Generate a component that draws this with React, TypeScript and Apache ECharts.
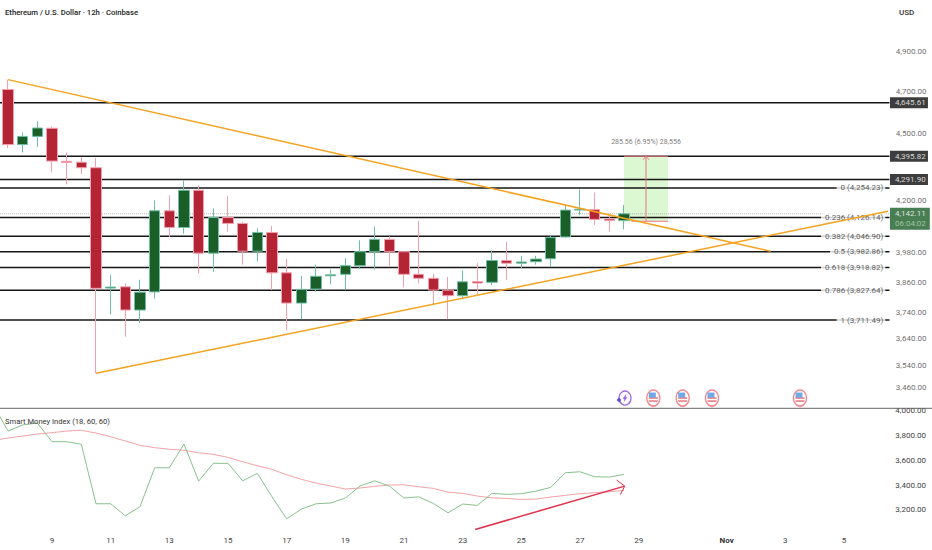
import React, { useEffect, useRef } from "react";
import * as echarts from "echarts";

// [open, close, low, high] per 12h bar; bar 0 = Oct 7 12:00
const candles: number[][] = [
  [4710, 4449, 4434, 4758], [4449, 4487, 4413, 4505], [4487, 4526, 4438, 4558], [4525, 4374, 4323, 4532],
  [4373, 4368, 4270, 4413], [4369, 4344, 4316, 4393], [4344, 3835, 3513, 4388], [3836, 3840, 3733, 3887],
  [3841, 3750, 3648, 3855], [3750, 3820, 3699, 3869], [3821, 4155, 3795, 4200], [4155, 4084, 4044, 4222],
  [4084, 4244, 4058, 4289], [4244, 3977, 3894, 4266], [3977, 4126, 3901, 4165], [4126, 4101, 4067, 4218],
  [4101, 3985, 3930, 4108], [3985, 4063, 3943, 4080], [4063, 3897, 3828, 4090], [3897, 3777, 3673, 3953],
  [3777, 3831, 3715, 3885], [3832, 3883, 3821, 3930], [3885, 3889, 3851, 3910], [3891, 3926, 3828, 3957],
  [3926, 3983, 3912, 4030], [3983, 4034, 3910, 4087], [4034, 3983, 3920, 4047], [3983, 3891, 3839, 3985],
  [3891, 3875, 3855, 4112], [3875, 3828, 3773, 3893], [3828, 3806, 3715, 3881], [3806, 3861, 3792, 3907],
  [3862, 3856, 3808, 3936], [3859, 3947, 3848, 3987], [3947, 3936, 3869, 4024], [3936, 3941, 3916, 3966],
  [3942, 3953, 3930, 3966], [3954, 4042, 3920, 4052], [4044, 4158, 4042, 4180], [4158, 4162, 4136, 4247],
  [4160, 4118, 4094, 4234], [4120, 4113, 4067, 4136], [4113, 4142.11, 4075, 4180],
];

// Smart Money Index pane, starting one bar before the first candle
const smiGreen = [
  4046, 3836, 3885, 3901, 3750, 3750, 3729, 3250, 3250, 3153, 3226, 3540, 3540, 3731, 3433, 3576, 3576, 3435, 3495,
  3306, 3129, 3207, 3250, 3256, 3296, 3393, 3435, 3393, 3296, 3306, 3253, 3177, 3248, 3237, 3334, 3326, 3331, 3352,
  3382, 3500, 3508, 3468, 3465, 3487,
];
const smiRed = [
  3760, 3780, 3796, 3812, 3823, 3836, 3842, 3820, 3790, 3756, 3721, 3702, 3689, 3681, 3661, 3648, 3624, 3589, 3556,
  3527, 3484, 3447, 3417, 3393, 3369, 3377, 3390, 3401, 3403, 3387, 3374, 3344, 3334, 3312, 3298, 3293, 3285, 3288,
  3304, 3318, 3331, 3339, 3347, 3358,
];

const plainLevels = [4645.61, 4395.82, 4291.9];
const fibLevels = [4254.23, 4126.14, 4046.9, 3982.86, 3918.82, 3827.64, 3711.49];
const fibLabels = ["0", "0.236", "0.382", "0.5", "0.618", "0.786", "1"];

const priceTicks = [4900, 4700, 4500, 4200, 3980, 3860, 3740, 3640, 3540, 3460];

const timeTicks = [3, 7, 11, 15, 19, 23, 27, 31, 35, 39, 43, 49, 53, 57];
const timeTickLabels = ["9", "11", "13", "15", "17", "19", "21", "23", "25", "27", "29", "Nov", "3", "5"];

const fallingTrend = [[0, 4758], [52, 3985]];
const risingTrend = [[6, 3513], [60, 4153]];

const lastPrice = 4142.11;
const countdown = "06:04:02";
const positionTop = 4395.82;
const positionBottom = 4110.26;
const positionText = "285.56 (6.95%) 28,556";
const usEvents = [44, 46, 48, 54];
const energyEvents = [42];
const eventLevel = 3424;

const smiArrow = [[31.85, 3043], [42.05, 3392]];
const smiArrowHead = [[41.5, 3441], [42.05, 3392], [41.75, 3324]];

const FONT = "Roboto, 'Liberation Sans', sans-serif";
const fmt = (v: number) => v.toLocaleString("en-US", { minimumFractionDigits: 2, maximumFractionDigits: 2 });
const X_MIN = -1.5;
const X_MAX = 60.5;
const LEVEL_END = 60.1;

const hline = (v: number) => [[X_MIN, v], [LEVEL_END, v]];

function buildOption() {
  const lineBase = { type: "line", symbol: "none", silent: true, animation: false };
  const blackLevel = (v: number, name: string) => ({
    ...lineBase, name, z: 1, data: hline(v),
    lineStyle: { color: "#161616", width: 1.5 },
  });
  const dot = { symbolSize: 1, itemStyle: { color: "transparent" }, clip: false, silent: true };

  const series: any[] = [];
  [...plainLevels, ...fibLevels].forEach((v) => series.push(blackLevel(v, "level " + v)));

  series.push({
    ...lineBase, name: "last price", z: 1, data: hline(lastPrice),
    lineStyle: { color: "#b9b9b9", width: 1, type: [1, 1] },
  });

  series.push({
    ...lineBase, name: "position", z: 1, data: [[42, positionTop], [45, positionTop]],
    lineStyle: { color: "#e8747f", width: 1 },
    markArea: {
      silent: true,
      itemStyle: { color: "#dcf8d2", opacity: 1 },
      data: [[{ coord: [42, positionTop] }, { coord: [45, positionBottom] }]],
    },
  });

  series.push({
    type: "candlestick", name: "ETHUSD", z: 2, barWidth: 11, silent: true,
    data: candles.map((c, i) => [i, c[0], c[1], c[2], c[3]]),
    encode: { x: 0, y: [1, 2, 3, 4] },
    itemStyle: { color: "#1b5e28", color0: "#b32535", borderColor: "#6fbfa6", borderColor0: "#f4a0ae", borderWidth: 1 },
  });

  series.push({
    ...lineBase, name: "position bottom", z: 3, data: [[42.5, positionBottom], [45, positionBottom]],
    lineStyle: { color: "#e8747f", width: 1 },
  });
  series.push({
    ...lineBase, name: "position arrow", z: 3, data: [[43.5, positionBottom], [43.5, positionTop]],
    lineStyle: { color: "#e8747f", width: 1 },
  });
  series.push({
    ...lineBase, name: "position arrow head", z: 3,
    data: [[43.3, 4380], [43.5, positionTop], [43.7, 4380]],
    lineStyle: { color: "#e8747f", width: 1 },
  });

  [fallingTrend, risingTrend].forEach((d, i) =>
    series.push({ ...lineBase, name: "trend " + i, z: 5, data: d, lineStyle: { color: "#f5a31f", width: 1.5 } }),
  );

  // Fibonacci captions
  series.push({
    type: "scatter", ...dot, name: "fib labels", z: 4,
    data: fibLevels.map((v, i) => ({
      value: [59.85, v],
      label: {
        show: true, position: "left", distance: 0,
        formatter: `${fibLabels[i]} (${fmt(v)})`,
        fontFamily: FONT, fontSize: 8, color: "#333",
        backgroundColor: "#fff", padding: [1, 2, 1, 4],
      },
    })),
  });

  // Price scale as an axis of labels
  series.push({
    type: "scatter", ...dot, name: "price ticks", z: 4,
    data: priceTicks.map((v) => ({
      value: [X_MAX, v],
      label: { show: true, position: "right", distance: 0, formatter: fmt(v), fontFamily: FONT, fontSize: 8, color: "#444" },
    })),
  });

  // Price tags
  series.push({
    type: "scatter", ...dot, name: "price tags", z: 6,
    data: plainLevels.map((v) => ({
      value: [LEVEL_END, v],
      label: {
        show: true, position: "right", distance: 0, formatter: fmt(v),
        fontFamily: FONT, fontSize: 8, color: "#fff",
        backgroundColor: "#0c0c0c", padding: [2, 4, 1, 5], width: 29,
      },
    })),
  });
  series.push({
    type: "scatter", ...dot, name: "last tag", z: 6,
    data: [{
      value: [LEVEL_END, lastPrice],
      label: {
        show: true, position: "right", distance: 0, offset: [0, 5],
        formatter: `{a|${fmt(lastPrice)}}\n{b|${countdown}}`,
        backgroundColor: "#1b5e28", padding: [1, 4, 1, 5],
        rich: {
          a: { fontFamily: FONT, fontSize: 8, color: "#fff", lineHeight: 10 },
          b: { fontFamily: FONT, fontSize: 8, color: "#b7d6bb", lineHeight: 10 },
        },
      },
    }],
  });

  series.push({
    type: "scatter", ...dot, name: "position text", z: 4,
    data: [{
      value: [43.5, 4461],
      label: { show: true, position: "inside", formatter: positionText, fontFamily: FONT, fontSize: 7, color: "#555" },
    }],
  });

  // Event markers
  const evt = { type: "scatter", silent: true, clip: false, z: 6 };
  const pts = usEvents.map((i) => [i, eventLevel]);
  series.push({ ...evt, name: "event ring", data: pts, symbol: "circle", symbolSize: [13, 16], itemStyle: { color: "#fff", borderColor: "#ef6a72", borderWidth: 1.5 } });
  series.push({ ...evt, z: 7, name: "event stripes", data: pts, symbol: "rect", symbolSize: [9, 1.5], symbolOffset: [0, 3], itemStyle: { color: "#e5545c" } });
  series.push({ ...evt, z: 7, name: "event stripes 2", data: pts, symbol: "rect", symbolSize: [9, 1.5], symbolOffset: [0, 0], itemStyle: { color: "#e5545c" } });
  series.push({ ...evt, z: 8, name: "event canton", data: pts, symbol: "rect", symbolSize: [7, 5], symbolOffset: [-1, -3], itemStyle: { color: "#4a93e2" } });
  const ePts = energyEvents.map((i) => [i, eventLevel]);
  series.push({ ...evt, name: "energy ring", data: ePts, symbol: "circle", symbolSize: [12, 14], symbolOffset: [1, 0], itemStyle: { color: "#fff", borderColor: "#8b3fd6", borderWidth: 1.3 } });
  series.push({ ...evt, z: 7, name: "energy bolt", data: ePts, symbol: "path://M6 0 L0 6 L3 6 L2 10 L8 4 L5 4 Z", symbolSize: [5, 8], symbolOffset: [1, 0], itemStyle: { color: "#8b3fd6" } });
  series.push({ ...evt, z: 7, name: "energy spark", data: ePts, symbol: "diamond", symbolSize: 5, symbolOffset: [-5, 2], itemStyle: { color: "#3f3fd6" } });

  // SMI pane
  const toXY = (a: number[]) => a.map((v, i) => [i - 1, v]);
  series.push({
    ...lineBase, name: "SMI signal", xAxisIndex: 1, yAxisIndex: 1, z: 2, data: toXY(smiRed),
    lineStyle: { color: "#f4a3a3", width: 1 },
  });
  series.push({
    ...lineBase, name: "SMI", xAxisIndex: 1, yAxisIndex: 1, z: 3, data: toXY(smiGreen),
    lineStyle: { color: "#86c28c", width: 1 },
  });
  series.push({
    ...lineBase, name: "SMI arrow", xAxisIndex: 1, yAxisIndex: 1, z: 4, data: smiArrow, clip: false,
    lineStyle: { color: "#e0304a", width: 1.5 },
  });
  series.push({
    ...lineBase, name: "SMI arrow head", xAxisIndex: 1, yAxisIndex: 1, z: 4, data: smiArrowHead, clip: false,
    lineStyle: { color: "#e0304a", width: 1 },
  });

  return {
    animation: false,
    backgroundColor: "#fff",
    grid: [
      { left: -14, top: 0, width: 909.33, height: 408, outerBoundsMode: "none" },
      { left: -14, top: 410.7, width: 909.33, height: 124.1, outerBoundsMode: "none" },
    ],
    xAxis: [
      { type: "value", gridIndex: 0, min: X_MIN, max: X_MAX, show: false },
      {
        type: "value", gridIndex: 1, min: X_MIN, max: X_MAX,
        splitLine: { show: false }, axisLine: { show: false }, axisTick: { show: false },
        axisLabel: {
          customValues: timeTicks, margin: 2, fontFamily: FONT, fontSize: 8, color: "#444",
          formatter: (v: number) => {
            const l = timeTickLabels[timeTicks.indexOf(v)];
            return l === "Nov" ? "{b|Nov}" : l;
          },
          rich: { b: { fontFamily: FONT, fontSize: 8, fontWeight: "bold", color: "#333" } },
        },
      },
    ],
    yAxis: [
      {
        type: "log", gridIndex: 0, min: 3389, max: 5166, position: "right",
        splitLine: { show: false }, axisLine: { show: false }, axisTick: { show: false }, axisLabel: { show: false },
      },
      {
        type: "value", gridIndex: 1, min: 3000, max: 4000, interval: 200, position: "right",
        splitLine: { show: false }, axisLine: { show: false }, axisTick: { show: false },
        axisLabel: {
          margin: 0, fontFamily: FONT, fontSize: 8, color: "#444",
          formatter: (v: number) => (v === 3000 ? "" : fmt(v)),
        },
      },
    ],
    graphic: [
      { type: "line", z: 20, shape: { x1: 0, y1: 408.3, x2: 932, y2: 408.3 }, style: { stroke: "#666", lineWidth: 1 } },
      {
        type: "text", left: 5, top: 8, z: 20,
        style: { text: "Ethereum / U.S. Dollar · 12h · Coinbase", font: `500 7.7px ${FONT}`, fill: "#222" },
      },
      { type: "text", left: 899, top: 8, z: 20, style: { text: "USD", font: `500 8px ${FONT}`, fill: "#333" } },
      {
        type: "text", left: 5, top: 417, z: 20,
        style: { text: "Smart Money Index (18, 60, 60)", font: `7.6px ${FONT}`, fill: "#333" },
      },
    ],
    series,
  };
}

export default function App() {
  const ref = useRef<HTMLDivElement>(null);
  useEffect(() => {
    document.body.style.margin = "0";
    const chart = echarts.init(ref.current!, undefined, { renderer: "svg" });
    chart.setOption(buildOption() as any);
    return () => chart.dispose();
  }, []);
  return <div ref={ref} style={{ width: 932, height: 550, overflow: "hidden" }} />;
}
